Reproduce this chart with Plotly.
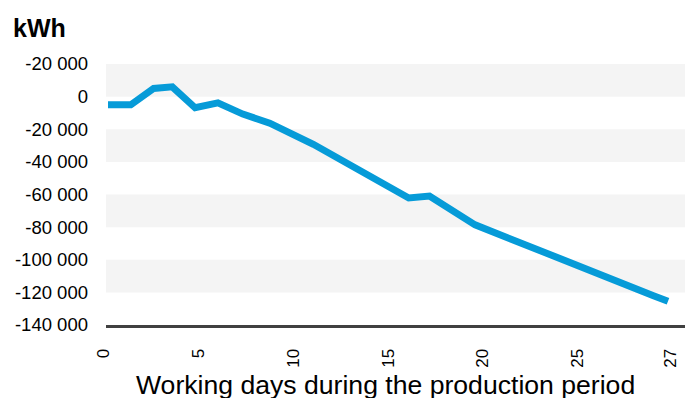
import plotly.graph_objects as go

# Cumulative energy balance over the production period
days = [0, 1.1, 2.2, 3.1, 4.2, 5.3, 6.5, 7.8, 9.9, 14.5, 15.5, 17.7, 26.3, 27]
energy_kwh = [-5000, -5000, 5000, 6000, -6800, -3800, -10700, -16300, -29200,
              -62100, -61000, -78600, -122000, -125500]

# Axis labelling
y_tick_vals = [20000, 0, -20000, -40000, -60000, -80000, -100000, -120000, -140000]
y_tick_text = ["-20 000", "0", "-20 000", "-40 000", "-60 000", "-80 000",
               "-100 000", "-120 000", "-140 000"]
x_tick_text = ["0", "5", "10", "15", "20", "25", "27"]
x_tick_pos = [-0.22, 4.35, 8.92, 13.49, 18.06, 22.63, 27.12]

# Shaded horizontal bands between alternate grid lines
bands = [(0, 20000), (-40000, -20000), (-80000, -60000), (-120000, -100000)]

FONT = "Liberation Sans, Arial, sans-serif"
LINE_BLUE = "#069bd8"
PX_PER_DAY = 20.74
LABEL_OFFSET = 0.5  # ticks sit half a day right, labels shifted back in pixels

fig = go.Figure()
fig.add_trace(go.Scatter(
    x=days, y=energy_kwh, mode="lines",
    line=dict(color=LINE_BLUE, width=7),
    hoverinfo="skip", showlegend=False,
))

for lo, hi in bands:
    fig.add_shape(type="rect", xref="paper", yref="y", x0=0, x1=1, y0=lo, y1=hi,
                  fillcolor="#f4f4f4", line_width=0, layer="below")

fig.update_layout(
    width=685, height=398,
    margin=dict(l=106, r=0, t=64, b=73),
    paper_bgcolor="white", plot_bgcolor="white",
    font=dict(family=FONT, color="#000000"),
    xaxis=dict(
        range=[-0.096, 27.82], showgrid=False, zeroline=False,
        showline=True, linecolor="#404040", linewidth=3,
        tickmode="array", tickvals=[p + LABEL_OFFSET for p in x_tick_pos],
        ticktext=x_tick_text, ticklabelshift=-round(LABEL_OFFSET * PX_PER_DAY),
        tickangle=-90, tickfont=dict(size=17, family=FONT),
        ticks="", ticklabelstandoff=14,
    ),
    yaxis=dict(
        range=[-140000, 20000], showgrid=False, zeroline=False, showline=False,
        tickmode="array", tickvals=y_tick_vals, ticktext=y_tick_text,
        tickfont=dict(size=18.5, family=FONT), ticks="", ticklabelstandoff=17,
    ),
    annotations=[
        dict(text="<b>kWh</b>", xref="paper", yref="paper", x=-95 / 579, y=1 + 52 / 261,
             xanchor="left", yanchor="top", showarrow=False,
             font=dict(size=25, family=FONT, color="#000000")),
        dict(text="Working days during the production period", xref="paper", yref="paper",
             x=(385 - 106) / 579, y=0, xanchor="center", yanchor="top", yshift=-43,
             showarrow=False, font=dict(size=26.6, family=FONT, color="#000000")),
    ],
)

fig.write_html("out.html")
